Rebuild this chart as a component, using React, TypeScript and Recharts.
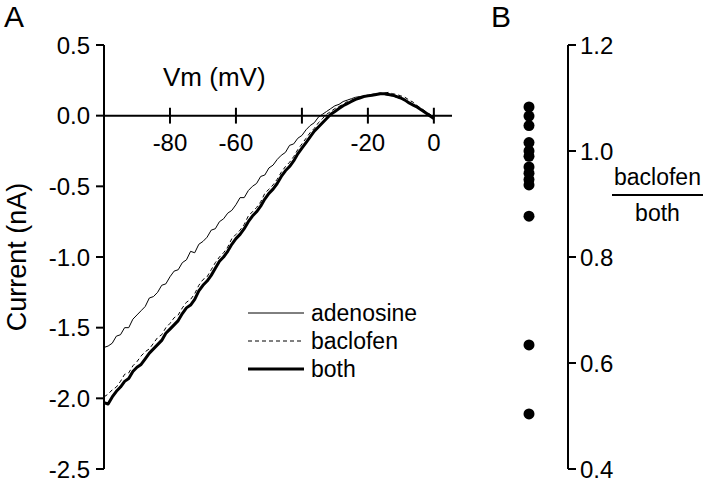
import { LineChart, Line, XAxis, YAxis, ReferenceLine, ScatterChart, Scatter } from "recharts";

const FONT = "'Liberation Sans', Arial, sans-serif";

// membrane potential (mV) of the ramp samples
const VOLTAGE = [
  -100, -98.75, -97.5, -96.25, -95, -93.75, -92.5, -91.25, -90, -88.75,
  -87.5, -86.25, -85, -83.75, -82.5, -81.25, -80, -78.75, -77.5, -76.25,
  -75, -73.75, -72.5, -71.25, -70, -68.75, -67.5, -66.25, -65, -63.75,
  -62.5, -61.25, -60, -58.75, -57.5, -56.25, -55, -53.75, -52.5, -51.25,
  -50, -48.75, -47.5, -46.25, -45, -43.75, -42.5, -41.25, -40, -38.75,
  -37.5, -36.25, -35, -33.75, -32.5, -31.25, -30, -28.75, -27.5, -26.25,
  -25, -23.75, -22.5, -21.25, -20, -18.75, -17.5, -16.25, -15, -13.75,
  -12.5, -11.25, -10, -8.75, -7.5, -6.25, -5, -3.75, -2.5, -1.25,
  0,
];

// current (nA)
const ADENOSINE = [
  -1.64, -1.63, -1.61, -1.56, -1.55, -1.5, -1.5, -1.44, -1.41, -1.38,
  -1.35, -1.29, -1.28, -1.25, -1.2, -1.19, -1.14, -1.1, -1.09, -1.04,
  -1.02, -0.96, -0.97, -0.91, -0.89, -0.86, -0.81, -0.8, -0.75, -0.73,
  -0.69, -0.67, -0.63, -0.58, -0.58, -0.53, -0.5, -0.48, -0.43, -0.42,
  -0.37, -0.35, -0.31, -0.28, -0.26, -0.21, -0.2, -0.16, -0.14, -0.1,
  -0.07, -0.05, -0.01, 0.01, 0.03, 0.05, 0.07, 0.08, 0.1, 0.11,
  0.12, 0.13, 0.135, 0.14, 0.145, 0.15, 0.15, 0.155, 0.15, 0.145,
  0.14, 0.13, 0.12, 0.105, 0.09, 0.075, 0.06, 0.04, 0.02, 0.01,
  -0.01,
];
const BACLOFEN = [
  -1.99, -1.97, -1.94, -1.92, -1.88, -1.83, -1.82, -1.77, -1.74, -1.7,
  -1.67, -1.65, -1.61, -1.57, -1.55, -1.5, -1.47, -1.43, -1.41, -1.36,
  -1.32, -1.3, -1.26, -1.2, -1.16, -1.14, -1.09, -1.04, -1.0, -0.97,
  -0.93, -0.87, -0.84, -0.81, -0.77, -0.71, -0.68, -0.65, -0.61, -0.55,
  -0.52, -0.49, -0.45, -0.4, -0.36, -0.33, -0.29, -0.24, -0.2, -0.16,
  -0.12, -0.09, -0.05, -0.02, 0.01, 0.03, 0.05, 0.065, 0.08, 0.1,
  0.11, 0.12, 0.13, 0.14, 0.145, 0.15, 0.155, 0.16, 0.16, 0.165,
  0.155, 0.15, 0.14, 0.13, 0.11, 0.095, 0.07, 0.05, 0.03, 0.01,
  -0.01,
];
const BOTH = [
  -2.03, -2.04, -1.99, -1.95, -1.92, -1.88, -1.86, -1.81, -1.78, -1.76,
  -1.72, -1.68, -1.65, -1.62, -1.59, -1.54, -1.51, -1.48, -1.45, -1.4,
  -1.36, -1.34, -1.3, -1.24, -1.2, -1.17, -1.13, -1.08, -1.03, -1.0,
  -0.96, -0.91, -0.87, -0.84, -0.8, -0.75, -0.71, -0.68, -0.64, -0.59,
  -0.55, -0.52, -0.48, -0.43, -0.39, -0.36, -0.32, -0.27, -0.23, -0.19,
  -0.15, -0.11, -0.08, -0.05, -0.02, 0.01, 0.03, 0.05, 0.07, 0.085,
  0.1, 0.115, 0.125, 0.135, 0.14, 0.145, 0.15, 0.155, 0.155, 0.15,
  0.145, 0.135, 0.125, 0.11, 0.09, 0.075, 0.06, 0.04, 0.02, 0.0,
  -0.02,
];

const CURRENT_TICKS = [-2.5, -2.0, -1.5, -1.0, -0.5, 0.0, 0.5];
const VM_TICKS = [-80, -60, -40, -20, 0];
const VM_LABELS = ["-80", "-60", "", "-20", "0"];

// panel B: baclofen / both ratio per cell
const RATIOS = [1.083, 1.066, 1.048, 1.016, 1.0, 0.99, 0.97, 0.958, 0.946, 0.936, 0.877, 0.634, 0.504];
const RATIO_TICKS = [0.4, 0.6, 0.8, 1.0, 1.2];

const SERIES = [
  { key: "adenosine", name: "adenosine", width: 1, dash: undefined },
  { key: "baclofen", name: "baclofen", width: 1, dash: "4 3" },
  { key: "both", name: "both", width: 3, dash: undefined },
];

const ivData = VOLTAGE.map((v, i) => ({
  v,
  adenosine: ADENOSINE[i],
  baclofen: BACLOFEN[i],
  both: BOTH[i],
}));

const ratioData = RATIOS.map((r) => ({ x: 0.5, y: r }));

const tickStyle = { fontSize: 24, fill: "#000", fontFamily: FONT };

function LegendBox() {
  return (
    <div style={{ fontFamily: FONT, fontSize: 23, lineHeight: "28px" }}>
      {SERIES.map((s) => (
        <div key={s.key} style={{ display: "flex", alignItems: "center" }}>
          <svg width={56} height={10} style={{ marginRight: 7 }}>
            <line x1={0} y1={5} x2={56} y2={5} stroke="#000" strokeWidth={s.width} strokeDasharray={s.dash} />
          </svg>
          <span>{s.name}</span>
        </div>
      ))}
    </div>
  );
}

export default function App() {
  return (
    <div style={{ position: "absolute", left: 0, top: 0, width: 720, height: 484, background: "#fff", fontFamily: FONT }}>
      <div style={{ position: "absolute", left: 0, top: 0 }}>
        <LineChart width={470} height={484} data={ivData} margin={{ top: 45, right: 18, bottom: 15, left: 0 }}>
          <XAxis dataKey="v" type="number" domain={[-100, 5.5]} hide allowDataOverflow />
          <YAxis
            type="number"
            domain={[-2.5, 0.5]}
            ticks={CURRENT_TICKS}
            interval={0}
            width={104}
            tickSize={8}
            tickMargin={6}
            tickFormatter={(t: number) => t.toFixed(1)}
            tick={tickStyle}
            axisLine={{ stroke: "#000", strokeWidth: 2 }}
            tickLine={{ stroke: "#000", strokeWidth: 2 }}
            label={{
              value: "Current (nA)",
              angle: -90,
              position: "insideLeft",
              offset: 16,
              style: { textAnchor: "middle", fontSize: 27, fill: "#000", fontFamily: FONT },
            }}
          />
          <ReferenceLine y={0} stroke="#000" strokeWidth={2} />
          {VM_TICKS.map((t, i) => (
            <ReferenceLine
              key={t}
              segment={[
                { x: t, y: -0.056 },
                { x: t, y: 0.056 },
              ]}
              stroke="#000"
              strokeWidth={2}
              label={{ value: VM_LABELS[i], position: "bottom", offset: 10, style: tickStyle }}
            />
          ))}
          {SERIES.map((s) => (
            <Line
              key={s.key}
              dataKey={s.key}
              name={s.name}
              type="linear"
              stroke="#000"
              strokeWidth={s.width}
              strokeDasharray={s.dash}
              strokeLinejoin="round"
              dot={false}
              isAnimationActive={false}
            />
          ))}
        </LineChart>
      </div>

      <div style={{ position: "absolute", left: 480, top: 0 }}>
        <ScatterChart width={240} height={484} margin={{ top: 45, right: 0, bottom: 15, left: 10 }}>
          <XAxis dataKey="x" type="number" domain={[0, 1]} hide />
          <YAxis
            dataKey="y"
            type="number"
            orientation="right"
            domain={[0.4, 1.2]}
            ticks={RATIO_TICKS}
            interval={0}
            width={152}
            tickSize={8}
            tickMargin={4}
            tickFormatter={(t: number) => t.toFixed(1)}
            tick={{ ...tickStyle, textAnchor: "start" }}
            axisLine={{ stroke: "#000", strokeWidth: 2 }}
            tickLine={{ stroke: "#000", strokeWidth: 2 }}
          />
          <Scatter
            data={ratioData}
            fill="#000"
            isAnimationActive={false}
            shape={(p: any) => <circle cx={p.cx} cy={p.cy} r={5.5} fill="#000" />}
          />
        </ScatterChart>
      </div>

      <div style={{ position: "absolute", left: 4, top: 0, fontSize: 30, lineHeight: "34px" }}>A</div>
      <div style={{ position: "absolute", left: 491, top: 0, fontSize: 30, lineHeight: "34px" }}>B</div>
      <div style={{ position: "absolute", left: 163, top: 62, fontSize: 26 }}>Vm (mV)</div>
      <div style={{ position: "absolute", left: 248, top: 299 }}>
        <LegendBox />
      </div>
      <div style={{ position: "absolute", left: 612, top: 164, fontSize: 23, textAlign: "center", lineHeight: "27px" }}>
        <div style={{ borderBottom: "2px solid #000", paddingBottom: 3, paddingLeft: 2, paddingRight: 2 }}>baclofen</div>
        <div style={{ paddingTop: 4 }}>both</div>
      </div>
    </div>
  );
}
